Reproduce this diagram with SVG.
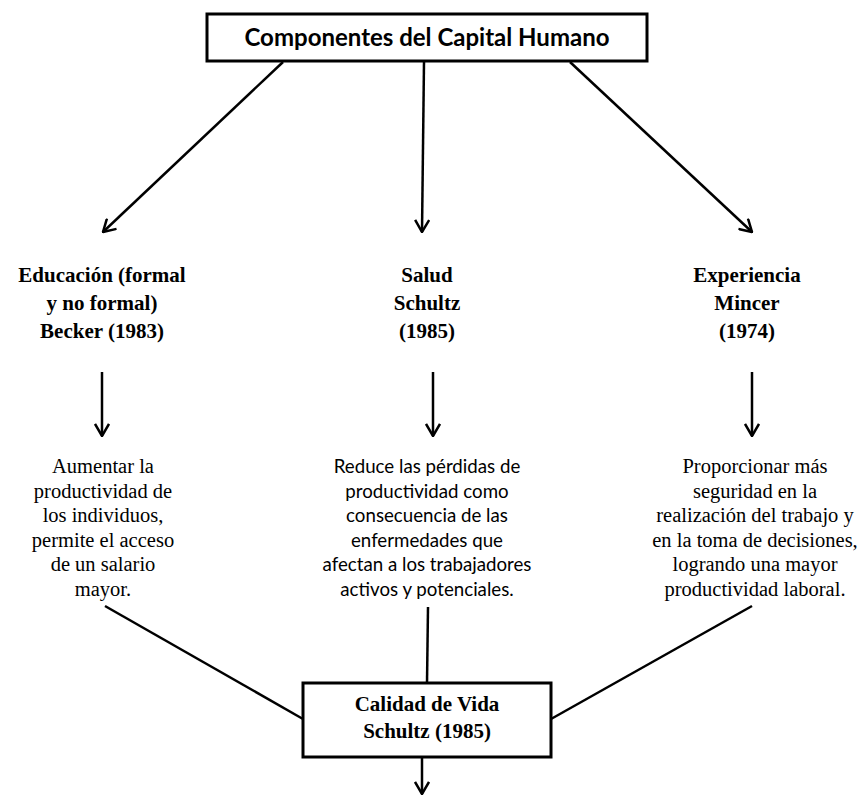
<svg xmlns="http://www.w3.org/2000/svg" width="862" height="796" viewBox="0 0 862 796">
<style>
.box{fill:#fff;stroke:#000;stroke-width:3}
.ln{stroke:#000;stroke-width:2.5;fill:none}
.title{font-family:Lato,"Liberation Sans",sans-serif;font-weight:bold;font-size:24px;text-anchor:middle}
.hd{font-family:"Liberation Serif",serif;font-weight:bold;font-size:21px;text-anchor:middle}
.ts{font-family:"Liberation Serif",serif;font-size:20.5px;text-anchor:middle}
.ss{font-family:Lato,"Liberation Sans",sans-serif;font-size:18.7px;text-anchor:middle}
</style>
<defs>
<marker id="ah" viewBox="0 0 14 16" refX="13" refY="8" markerWidth="14" markerHeight="16" markerUnits="userSpaceOnUse" orient="auto">
<path d="M1,1 L13,8 L1,15" fill="none" stroke="#000" stroke-width="2.5"/>
</marker>
</defs>
<rect width="862" height="796" fill="#fff"/>
<g id="connectors">
<line class="ln" x1="283" y1="62" x2="103" y2="232" marker-end="url(#ah)"/>
<line class="ln" x1="424" y1="62" x2="422" y2="232" marker-end="url(#ah)"/>
<line class="ln" x1="570" y1="62" x2="752" y2="232" marker-end="url(#ah)"/>
<line class="ln" x1="102" y1="372" x2="102" y2="436" marker-end="url(#ah)"/>
<line class="ln" x1="433" y1="372" x2="433" y2="436" marker-end="url(#ah)"/>
<line class="ln" x1="752" y1="372" x2="752" y2="436" marker-end="url(#ah)"/>
<line class="ln" x1="105" y1="606" x2="303" y2="719"/>
<line class="ln" x1="428" y1="607" x2="427" y2="683"/>
<line class="ln" x1="752" y1="606" x2="551" y2="719"/>
<line class="ln" x1="422" y1="757" x2="422" y2="794" marker-end="url(#ah)"/>
</g>
<g id="n-title">
<rect class="box" x="207" y="14" width="440" height="47"/>
<text class="title" x="427" y="46">Componentes del Capital Humano</text>
</g>
<g id="n-educacion">
<text class="hd" x="102" y="282">Educación (formal</text>
<text class="hd" x="102" y="310">y no formal)</text>
<text class="hd" x="102" y="338">Becker (1983)</text>
</g>
<g id="n-salud">
<text class="hd" x="427" y="282">Salud</text>
<text class="hd" x="427" y="310">Schultz</text>
<text class="hd" x="427" y="338">(1985)</text>
</g>
<g id="n-experiencia">
<text class="hd" x="747" y="282">Experiencia</text>
<text class="hd" x="747" y="310">Mincer</text>
<text class="hd" x="747" y="338">(1974)</text>
</g>
<g id="n-desc-educacion">
<text class="ts" x="103" y="473">Aumentar la</text>
<text class="ts" x="103" y="497.5">productividad de</text>
<text class="ts" x="103" y="522">los individuos,</text>
<text class="ts" x="103" y="546.5">permite el acceso</text>
<text class="ts" x="103" y="571">de un salario</text>
<text class="ts" x="103" y="595.5">mayor.</text>
</g>
<g id="n-desc-salud">
<text class="ss" x="427" y="473">Reduce las pérdidas de</text>
<text class="ss" x="427" y="497.5">productividad como</text>
<text class="ss" x="427" y="522">consecuencia de las</text>
<text class="ss" x="427" y="546.5">enfermedades que</text>
<text class="ss" x="427" y="571">afectan a los trabajadores</text>
<text class="ss" x="427" y="595.5">activos y potenciales.</text>
</g>
<g id="n-desc-experiencia">
<text class="ts" x="755" y="473">Proporcionar más</text>
<text class="ts" x="755" y="497.5">seguridad en la</text>
<text class="ts" x="755" y="522">realización del trabajo y</text>
<text class="ts" x="755" y="546.5">en la toma de decisiones,</text>
<text class="ts" x="755" y="571">logrando una mayor</text>
<text class="ts" x="755" y="595.5">productividad laboral.</text>
</g>
<g id="n-calidad">
<rect class="box" x="303" y="683" width="248" height="74"/>
<text class="hd" x="427" y="711">Calidad de Vida</text>
<text class="hd" x="427" y="738">Schultz (1985)</text>
</g>
</svg>
